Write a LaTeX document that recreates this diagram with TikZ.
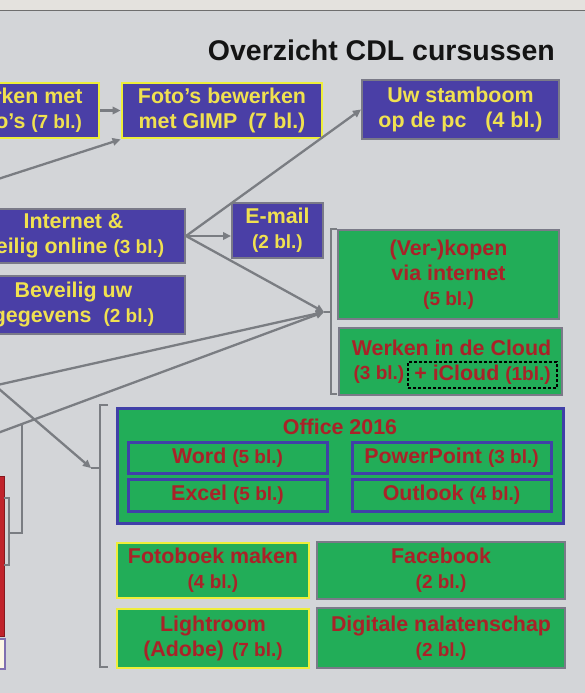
\documentclass[tikz,border=0pt]{standalone}
\usepackage{fontspec}
\setmainfont{Liberation Sans}
\usetikzlibrary{arrows.meta,calc}
\definecolor{bg}{HTML}{D3D5D8}
\definecolor{topstrip}{HTML}{E4E2DE}
\definecolor{topline}{HTML}{6E6E6E}
\definecolor{bluefill}{HTML}{4A3FA6}
\definecolor{yeltext}{HTML}{F0E150}
\definecolor{yelborder}{HTML}{EEEE3A}
\definecolor{greenfill}{HTML}{22AD58}
\definecolor{redtext}{HTML}{AA2228}
\definecolor{linegray}{HTML}{7A7D82}
\definecolor{boxgray}{HTML}{7A7A88}
\definecolor{officeblue}{HTML}{4040A8}
\definecolor{redbar}{HTML}{C0232B}
\definecolor{whitebar}{HTML}{FDF8E6}
\definecolor{purpleedge}{HTML}{8070B0}
\newcommand\sbl[1]{{\fontsize{19}{25}\selectfont #1}}
\begin{document}
\begin{tikzpicture}[x=1pt,y=-1pt,
  txt/.style={font=\fontsize{21.4}{25}\selectfont\bfseries, align=center, inner sep=0pt},
  bluebox/.style={txt, fill=bluefill, text=yeltext, draw=boxgray, line width=2pt},
  blueyel/.style={bluebox, draw=yelborder, line width=2.8pt},
  greenbox/.style={txt, fill=greenfill, text=redtext, draw=boxgray, line width=2pt},
  greenyel/.style={greenbox, draw=yelborder, line width=2.8pt},
  officebox/.style={txt, fill=greenfill, text=redtext, draw=officeblue, line width=3pt},
  redlabel/.style={txt, text=redtext},
  dashbox/.style={txt, text=redtext, draw=black, line width=1.2pt, dash pattern=on 3pt off 2pt},
  arr/.style={draw=linegray, line width=2.3pt, -{Triangle[length=8pt,width=7.5pt]}},
  brk/.style={draw=linegray, line width=2.3pt}
]
\useasboundingbox (0,0) rectangle (585,693);
\clip (0,0) rectangle (585,693);
\fill[bg] (0,0) rectangle (585,693);
\fill[topstrip] (0,0) rectangle (585,10);
\draw[topline, line width=1.8pt] (0,10.5) -- (585,10.5);

% title
\node[anchor=base east, font=\fontsize{28.5}{34}\selectfont\bfseries, text=black!92, inner sep=0pt] (title) at (555,61) {Overzicht CDL cursussen};

% blue boxes
\node[blueyel, minimum width=154pt, minimum height=55pt] (wfoto) at (22,110.5) {Werken met\\Foto’s \sbl{(7 bl.)}};
\node[blueyel, minimum width=200pt, minimum height=55pt] (gimp) at (222,110.5) {Foto’s bewerken\\met GIMP\hspace{11pt}(7 bl.)};
\node[bluebox, minimum width=197pt, minimum height=59pt] (stam) at (460.5,109.5) {Uw stamboom\\op de pc\hspace{19pt}(4 bl.)};
\node[bluebox, minimum width=223pt, minimum height=54pt] (inet) at (73.5,236) {Internet \&\\Veilig online \sbl{(3 bl.)}};
\node[bluebox, minimum width=91pt, minimum height=55pt] (email) at (277.5,230.5) {E-mail\\\sbl{(2 bl.)}};
\node[bluebox, minimum width=223pt, minimum height=58pt] (bev) at (73.5,305) {Beveilig uw\\gegevens\hspace{12pt}\sbl{(2 bl.)}};

% left partial bars
\node[fill=redbar, draw=redbar!70!black, line width=1pt, minimum width=14pt, minimum height=160pt, inner sep=0pt] (redbox) at (-3,556) {};
\node[fill=whitebar, draw=purpleedge, line width=1.2pt, minimum width=15pt, minimum height=30pt, inner sep=0pt] (whitebox) at (-2.5,654) {};

% green boxes right column
\node[greenbox, minimum width=221pt, minimum height=89pt] (kopen) at (448.5,274.5) {(Ver-)kopen\\via internet\\\sbl{(5 bl.)}};
\node[greenbox, minimum width=223pt, minimum height=67pt] (cloud) at (450.5,361.5) {};
\node[redlabel] (cloudt) at (451.5,348) {Werken in de Cloud};
\node[redlabel] (cloud3) at (379,375) {\sbl{(3 bl.)}};
\node[dashbox, minimum width=149pt, minimum height=26pt] (icloud) at (482.5,375) {+ iCloud \sbl{(1bl.)}};

% office
\node[officebox, minimum width=446pt, minimum height=115pt] (office) at (340,465.5) {};
\node[redlabel] (officet) at (340,427) {Office 2016};
\node[officebox, minimum width=199pt, minimum height=31pt] (word) at (227.5,457.5) {Word \sbl{(5 bl.)}};
\node[officebox, minimum width=199pt, minimum height=31pt] (ppt) at (451.5,457.5) {PowerPoint \sbl{(3 bl.)}};
\node[officebox, minimum width=199pt, minimum height=32pt] (excel) at (227.5,495) {Excel \sbl{(5 bl.)}};
\node[officebox, minimum width=199pt, minimum height=32pt] (outlook) at (451.5,495) {Outlook \sbl{(4 bl.)}};

% bottom green boxes
\node[greenyel, minimum width=192pt, minimum height=55pt] (fotoboek) at (213,570.5) {Fotoboek maken\\\sbl{(4 bl.)}};
\node[greenbox, minimum width=248pt, minimum height=57pt] (facebook) at (441,570.5) {Facebook\\\sbl{(2 bl.)}};
\node[greenyel, minimum width=192pt, minimum height=59pt] (lightroom) at (213,638.5) {Lightroom\\(Adobe)\hspace{8pt}\sbl{(7 bl.)}};
\node[greenbox, minimum width=248pt, minimum height=60pt] (digit) at (441,638) {Digitale nalatenschap\\\sbl{(2 bl.)}};

% coordinates
\coordinate (l0) at (-5,180);
\coordinate (lsrc) at (-5,385.5);
\coordinate (l2) at (-5,434);
\coordinate (b1tip) at (324,312);
\coordinate (b2tip) at (91,468);
\coordinate (sb) at (9,533);
\coordinate (j2) at ($(l2)!0.0821!(b1tip)$);

% brackets
\draw[brk] (337,229) -- (331,229) -- (331,394) -- (337,394);
\draw[brk] (331,312) -- (b1tip);
\draw[brk] (108,405) -- (100,405) -- (100,667) -- (108,667);
\draw[brk] (100,468) -- (b2tip);
\draw[brk] (4,498) -- (9,498) -- (9,565) -- (4,565);
\draw[brk] (sb) -| (j2);

% connectors
\draw[arr] (wfoto.east) -- (gimp.west);
\draw[arr] (l0) -- (gimp.south west);
\draw[arr] (inet.east) -- (stam.west);
\draw[arr] (inet.east) -- (email.west |- inet.east);
\draw[arr] (inet.east) -- (b1tip);
\draw[arr] (lsrc) -- (b1tip);
\draw[arr] (l2) -- (b1tip);
\draw[arr] (lsrc) -- (b2tip);
\end{tikzpicture}
\end{document}
